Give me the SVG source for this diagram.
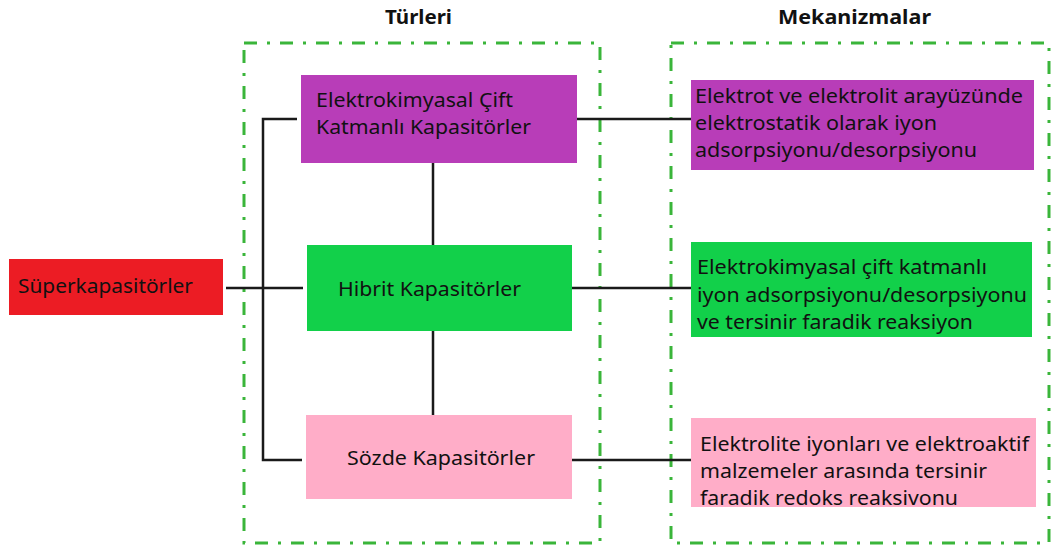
<svg xmlns="http://www.w3.org/2000/svg" width="1055" height="546" viewBox="0 0 1055 546">
<style>
.t{font-family:"Noto Sans","Open Sans","DejaVu Sans",sans-serif;font-size:19.5px;fill:#111}
.h{font-family:"Noto Sans","Open Sans","DejaVu Sans",sans-serif;font-size:19px;font-weight:bold;fill:#111}
.grp{fill:none;stroke:#3ab53a;stroke-width:3;stroke-dasharray:13 10 3 10}
.c{fill:none;stroke:#1a1a1a;stroke-width:2.5}
</style>
<rect width="1055" height="546" fill="#fff"/>
<text class="h" x="385" y="24" textLength="67" lengthAdjust="spacingAndGlyphs">Türleri</text>
<text class="h" x="778" y="24" textLength="153" lengthAdjust="spacingAndGlyphs">Mekanizmalar</text>
<rect class="grp" x="244" y="43" width="356" height="500"/>
<rect class="grp" x="671" y="43" width="378" height="500"/>
<g id="connectors">
<path class="c" d="M297 119H263V460H302"/>
<path class="c" d="M226 288H303"/>
<path class="c" d="M433 163V245M433 331V415"/>
<path class="c" d="M577 119H691M572 288H691M572 460H691"/>
</g>
<g id="super"><rect x="9" y="259" width="214" height="56" fill="#ec1c24"/><text class="t" x="18" y="293" textLength="175" lengthAdjust="spacingAndGlyphs">Süperkapasitörler</text></g>
<g id="edlc"><rect x="301" y="75" width="276" height="88" fill="#b83db8"/><text class="t" x="316" y="107" textLength="197" lengthAdjust="spacingAndGlyphs">Elektrokimyasal Çift</text><text class="t" x="316" y="134" textLength="215" lengthAdjust="spacingAndGlyphs">Katmanlı Kapasitörler</text></g>
<g id="hibrit"><rect x="307" y="245" width="265" height="86" fill="#12d04a"/><text class="t" x="338" y="296" textLength="183" lengthAdjust="spacingAndGlyphs">Hibrit Kapasitörler</text></g>
<g id="sozde"><rect x="306" y="415" width="266" height="84" fill="#ffadc8"/><text class="t" x="347" y="465" textLength="188" lengthAdjust="spacingAndGlyphs">Sözde Kapasitörler</text></g>
<g id="m1"><rect x="691" y="80" width="343" height="90" fill="#b83db8"/><text class="t" x="695" y="103" textLength="328" lengthAdjust="spacingAndGlyphs">Elektrot ve elektrolit arayüzünde</text><text class="t" x="695" y="130" textLength="242" lengthAdjust="spacingAndGlyphs">elektrostatik olarak iyon</text><text class="t" x="695" y="157" textLength="282" lengthAdjust="spacingAndGlyphs">adsorpsiyonu/desorpsiyonu</text></g>
<g id="m2"><rect x="691" y="242" width="341" height="95" fill="#12d04a"/><text class="t" x="697" y="274" textLength="290" lengthAdjust="spacingAndGlyphs">Elektrokimyasal çift katmanlı</text><text class="t" x="697" y="302" textLength="330" lengthAdjust="spacingAndGlyphs">iyon adsorpsiyonu/desorpsiyonu</text><text class="t" x="697" y="329" textLength="276" lengthAdjust="spacingAndGlyphs">ve tersinir faradik reaksiyon</text></g>
<g id="m3"><rect x="691" y="418" width="345" height="89" fill="#ffadc8"/><text class="t" x="700" y="451" textLength="329" lengthAdjust="spacingAndGlyphs">Elektrolite iyonları ve elektroaktif</text><text class="t" x="700" y="478" textLength="287" lengthAdjust="spacingAndGlyphs">malzemeler arasında tersinir</text><text class="t" x="700" y="505" textLength="258" lengthAdjust="spacingAndGlyphs">faradik redoks reaksivonu</text></g>
</svg>
